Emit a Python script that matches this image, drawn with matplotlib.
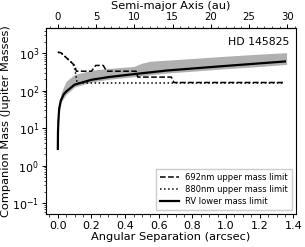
import numpy as np
import matplotlib
matplotlib.use("Agg")
import matplotlib.pyplot as plt
from matplotlib.ticker import AutoMinorLocator, MultipleLocator

# === DATA ===
DIST_PC = 22.0  # arcsec -> au

sep_692 = [0.0, 0.018, 0.10, 0.11, 0.20, 0.225, 0.27, 0.29, 0.465, 0.475, 0.675, 0.69, 1.35]
mass_692 = [1050, 1030, 470, 330, 330, 470, 470, 330, 330, 230, 230, 165, 165]

sep_880 = [0.0, 0.018, 0.09, 0.10, 0.115, 1.35]
mass_880 = [1050, 1030, 520, 400, 160, 160]

sep_rv = [0.0, 0.001, 0.003, 0.008, 0.018, 0.035, 0.05, 0.1, 0.2, 0.3, 0.45, 0.65, 0.98, 1.35]
mass_rv = [2.8, 8, 15, 33, 55, 80, 95, 145, 195, 230, 275, 345, 450, 600]

sep_band = [0.004, 0.01, 0.02, 0.05, 0.1, 0.2, 0.3, 0.45, 0.5, 0.55, 0.65, 0.8, 1.0, 1.2, 1.36]
band_hi = [14, 40, 90, 180, 270, 350, 390, 440, 540, 610, 650, 720, 830, 940, 1030]
band_lo = [11, 30, 50, 80, 125, 170, 200, 235, 250, 265, 295, 330, 385, 440, 500]

# === PLOT ===
fig = plt.figure(figsize=(3.05, 2.47), dpi=100)
ax = fig.add_axes([0.151, 0.134, 0.819, 0.753])

ax.fill_between(sep_band, band_lo, band_hi, color="#b0b0b0", lw=0)
ax.plot(sep_692, mass_692, "k--", lw=1.1, label="692nm upper mass limit")
ax.plot(sep_880, mass_880, "k:", lw=1.1, label="880nm upper mass limit")
ax.plot(sep_rv, mass_rv, "k-", lw=1.6, label="RV lower mass limit")

ax.set_yscale("log")
ax.set_xlim(-0.07, 1.415)
ax.set_ylim(0.052, 4700)
ax.xaxis.set_major_locator(MultipleLocator(0.2))
ax.xaxis.set_minor_locator(AutoMinorLocator())
ax.tick_params(labelsize=8, length=3, width=0.7, pad=2)
ax.tick_params(which="minor", length=1.8, width=0.5)
ax.set_xlabel("Angular Separation (arcsec)", fontsize=8.2, labelpad=1)
ax.set_ylabel("Companion Mass (Jupiter Masses)", fontsize=8.2, labelpad=1)

top = ax.secondary_xaxis("top", functions=(lambda x: x * DIST_PC, lambda a: a / DIST_PC))
top.set_xticks([0, 5, 10, 15, 20, 25, 30])
top.xaxis.set_minor_locator(AutoMinorLocator())
top.tick_params(labelsize=7.3, length=3, width=0.7, pad=1.5)
top.tick_params(which="minor", length=1.8, width=0.5)
top.set_xlabel("Semi-major Axis (au)", fontsize=8.2, labelpad=2)

ax.text(0.975, 0.95, "HD 145825", transform=ax.transAxes, ha="right", va="top", fontsize=7.8)
ax.legend(loc="lower right", fontsize=6, handlelength=2.2, borderpad=0.45,
          labelspacing=0.35, fancybox=False, framealpha=1, edgecolor="#cccccc")

fig.savefig("out.png", dpi=100)
